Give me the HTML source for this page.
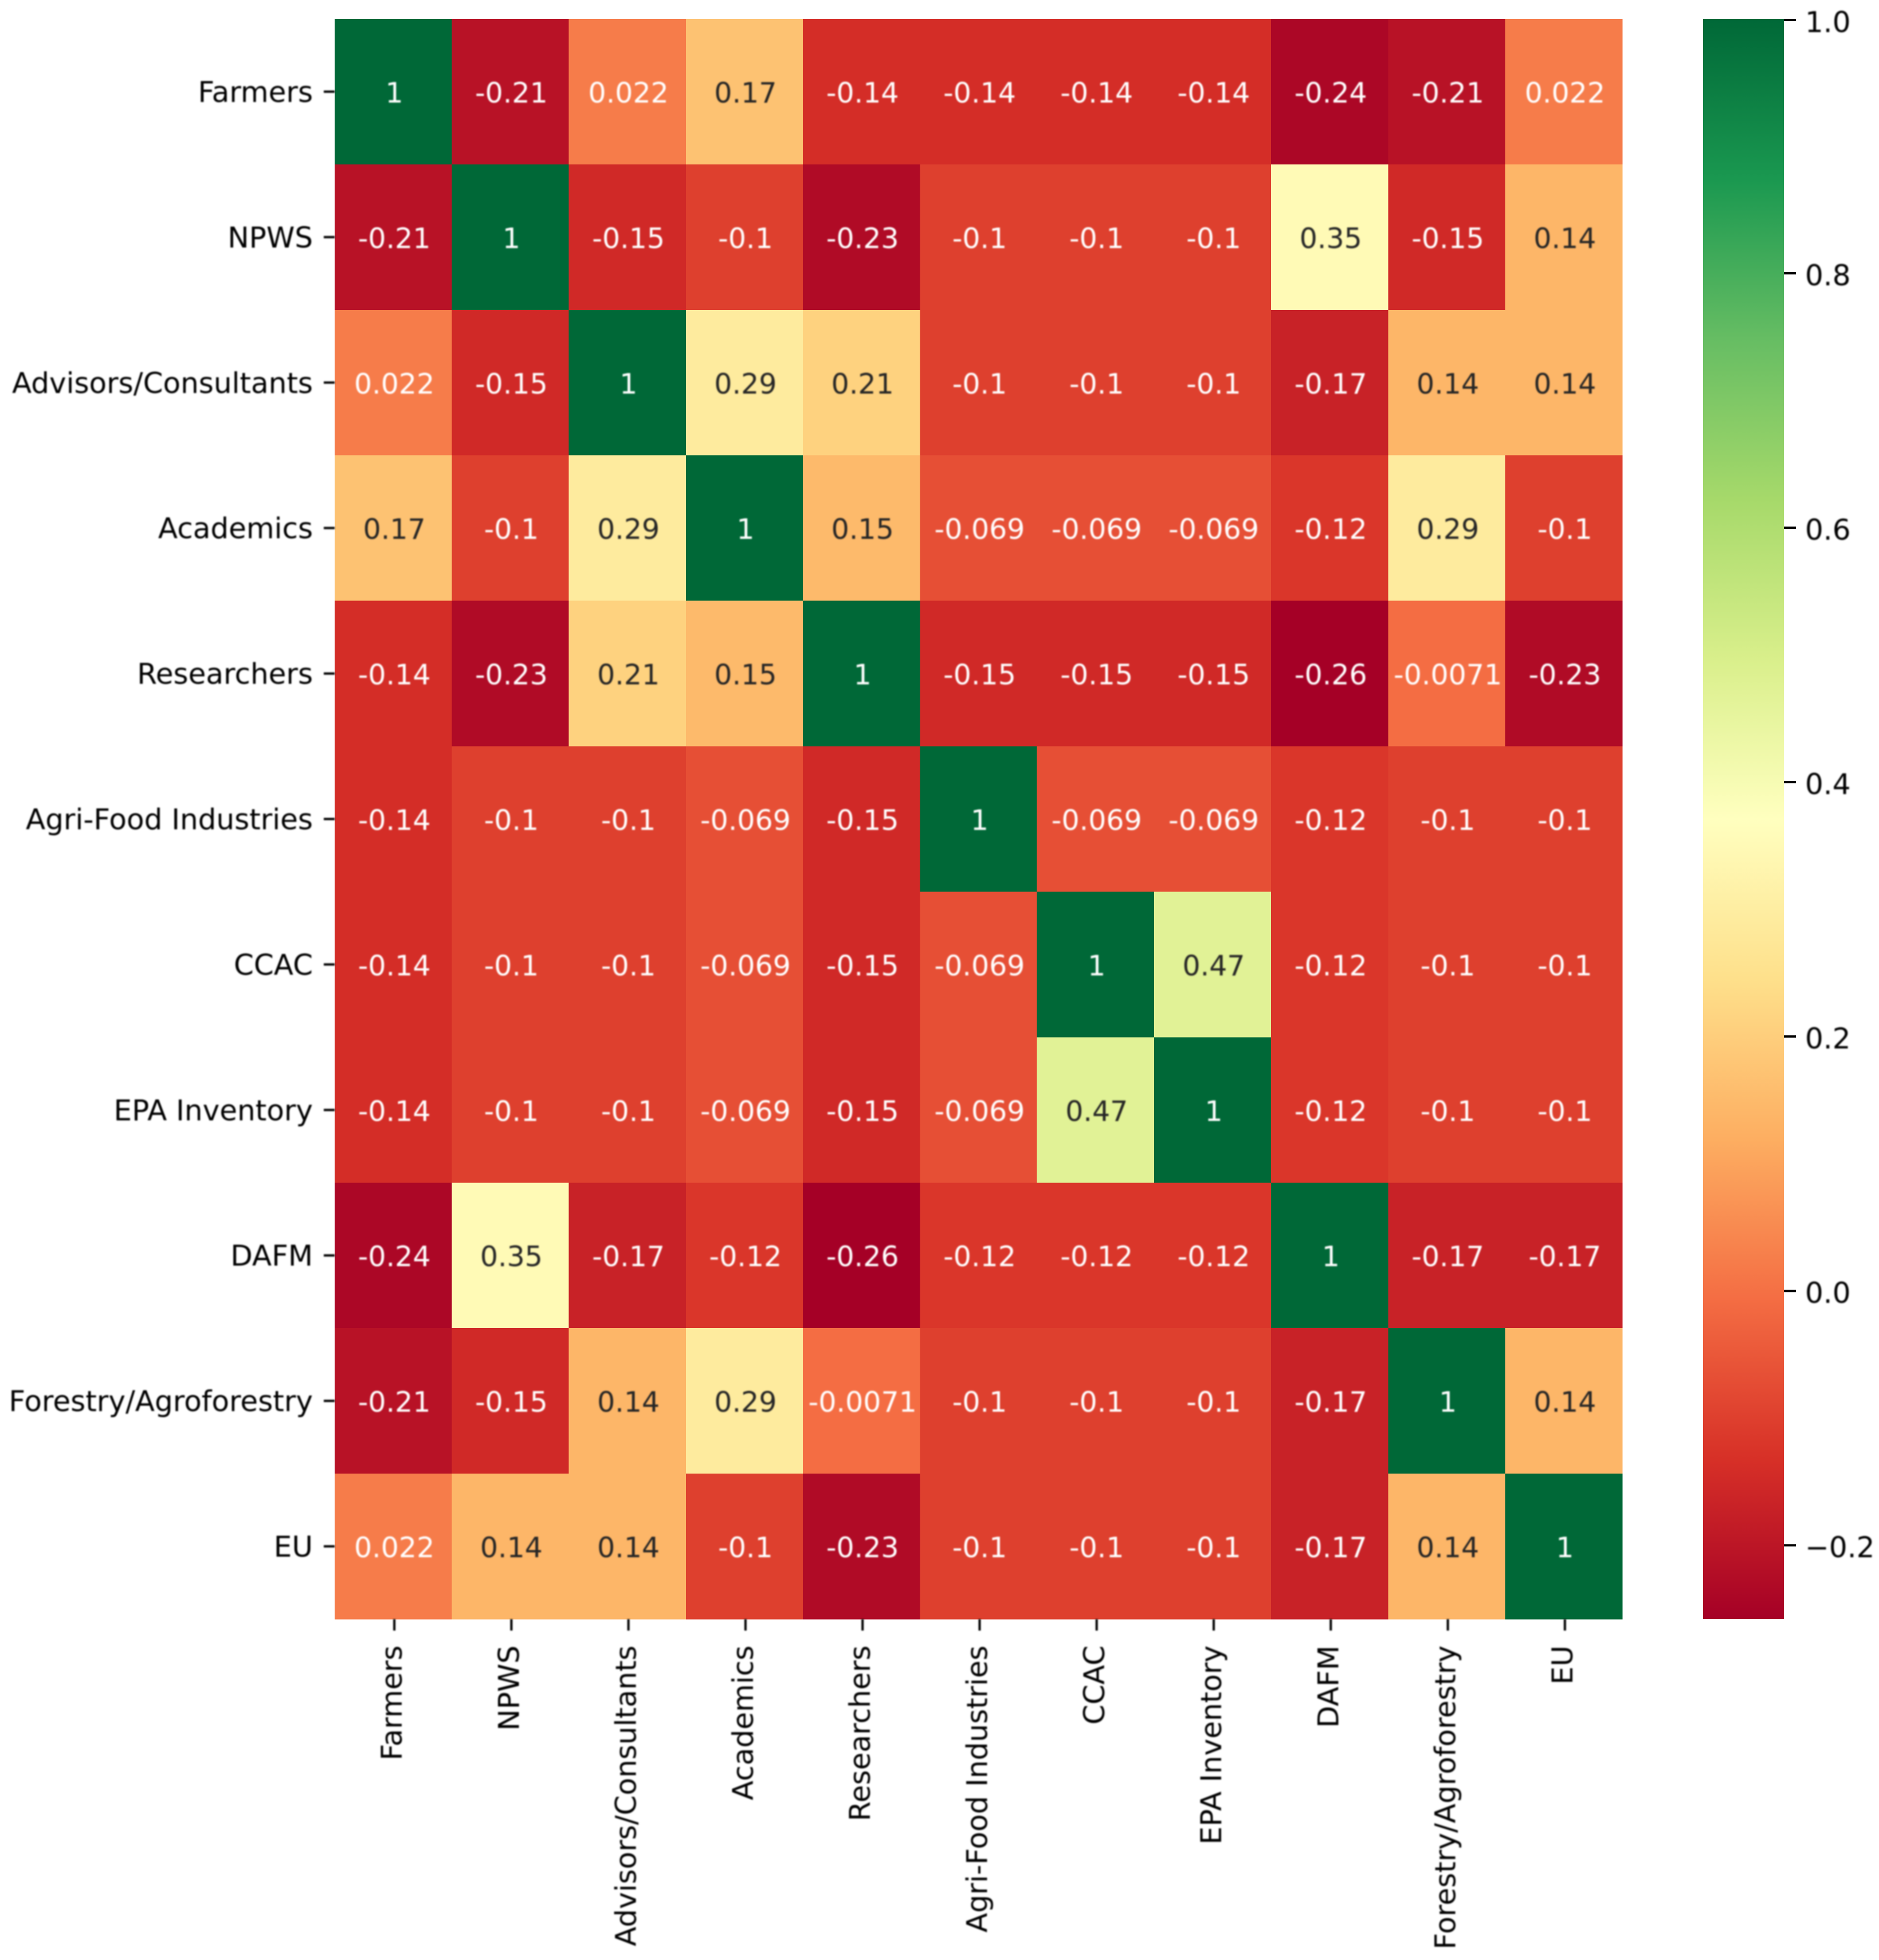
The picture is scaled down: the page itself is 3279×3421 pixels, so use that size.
<!DOCTYPE html>
<html lang="en">
<head>
<meta charset="utf-8">
<title>Correlation heatmap</title>
<style>
  html, body { margin: 0; padding: 0; background: #fff; }
  svg { display: block; }
  text { font-family: "DejaVu Sans", "Liberation Sans", sans-serif; font-size: 49px; }
  .axis-text { font-size: 50px; }
  .soft { filter: blur(1.2px); }
</style>
</head>
<body>
<svg id="chart" xmlns="http://www.w3.org/2000/svg" width="3279" height="3421" viewBox="0 0 3279 3421">
  <rect x="0" y="0" width="3279" height="3421" fill="#ffffff"/>
  <defs><linearGradient id="cbar-gradient" x1="0" y1="1" x2="0" y2="0"></linearGradient></defs>
  <g id="cells" shape-rendering="crispEdges"></g>
  <g id="annots" class="soft"></g>
  <g id="ylabels" class="soft"></g>
  <g id="xlabels" class="soft"></g>
  <g id="colorbar"></g>
</svg>
<script>
const categories = ["Farmers","NPWS","Advisors/Consultants","Academics","Researchers","Agri-Food Industries","CCAC","EPA Inventory","DAFM","Forestry/Agroforestry","EU"];
const rowFarmers = [1,-0.21,0.022,0.17,-0.14,-0.14,-0.14,-0.14,-0.24,-0.21,0.022];
const rowNPWS = [-0.21,1,-0.15,-0.1,-0.23,-0.1,-0.1,-0.1,0.35,-0.15,0.14];
const rowAdvisors = [0.022,-0.15,1,0.29,0.21,-0.1,-0.1,-0.1,-0.17,0.14,0.14];
const rowAcademics = [0.17,-0.1,0.29,1,0.15,-0.069,-0.069,-0.069,-0.12,0.29,-0.1];
const rowResearchers = [-0.14,-0.23,0.21,0.15,1,-0.15,-0.15,-0.15,-0.26,-0.0071,-0.23];
const rowAgriFood = [-0.14,-0.1,-0.1,-0.069,-0.15,1,-0.069,-0.069,-0.12,-0.1,-0.1];
const rowCCAC = [-0.14,-0.1,-0.1,-0.069,-0.15,-0.069,1,0.47,-0.12,-0.1,-0.1];
const rowEPA = [-0.14,-0.1,-0.1,-0.069,-0.15,-0.069,0.47,1,-0.12,-0.1,-0.1];
const rowDAFM = [-0.24,0.35,-0.17,-0.12,-0.26,-0.12,-0.12,-0.12,1,-0.17,-0.17];
const rowForestry = [-0.21,-0.15,0.14,0.29,-0.0071,-0.1,-0.1,-0.1,-0.17,1,0.14];
const rowEU = [0.022,0.14,0.14,-0.1,-0.23,-0.1,-0.1,-0.1,-0.17,0.14,1];
const matrixRows = [rowFarmers,rowNPWS,rowAdvisors,rowAcademics,rowResearchers,rowAgriFood,rowCCAC,rowEPA,rowDAFM,rowForestry,rowEU];
const colorbarTicks = [1.0,0.8,0.6,0.4,0.2,0.0,-0.2];
const colorMin = -0.258;
const colorMax = 1;

const NS = "http://www.w3.org/2000/svg";
const plot = { left: 584, right: 2831, top: 33, bottom: 2826 };
const bar = { left: 2972, right: 3113, top: 33, bottom: 2826 };
const palette = [[165,0,38],[215,48,39],[244,109,67],[253,174,97],[254,224,139],[255,255,191],[217,239,139],[166,217,106],[102,189,99],[26,152,80],[0,104,55]];

function cellW() { return (plot.right - plot.left) / categories.length; }
function cellH() { return (plot.bottom - plot.top) / categories.length; }
function xEdge(i) { return plot.left + i * cellW(); }
function yEdge(i) { return plot.top + i * cellH(); }
function xCenter(i) { return xEdge(i) + cellW() / 2; }
function yCenter(i) { return yEdge(i) + cellH() / 2; }
function barY(v) { return bar.top + (colorMax - v) / (colorMax - colorMin) * (bar.bottom - bar.top); }

function cmap(v) {
  const t = Math.max(0, Math.min(1, (v - colorMin) / (colorMax - colorMin))) * (palette.length - 1);
  const k = Math.min(palette.length - 2, Math.floor(t));
  const f = t - k;
  return palette[k].map((c, n) => c + (palette[k + 1][n] - c) * f);
}
function rgb(c) { return "rgb(" + c.map(Math.round).join(",") + ")"; }
function luminance(c) {
  const s = c.map(x => { x /= 255; return x <= 0.03928 ? x / 12.92 : Math.pow((x + 0.055) / 1.055, 2.4); });
  return 0.2126 * s[0] + 0.7152 * s[1] + 0.0722 * s[2];
}
function make(tag, attrs, parent, txt) {
  const el = document.createElementNS(NS, tag);
  for (const k in attrs) el.setAttribute(k, attrs[k]);
  if (txt !== undefined) el.textContent = txt;
  parent.appendChild(el);
  return el;
}

const cellsG = document.getElementById("cells");
const annotsG = document.getElementById("annots");
const yG = document.getElementById("ylabels");
const xG = document.getElementById("xlabels");
const cbG = document.getElementById("colorbar");
const TICK_COLOR = "#000";

matrixRows.forEach((row, r) => {
  row.forEach((v, c) => {
    const col = cmap(v);
    const rect = make("rect", { x: xEdge(c), y: yEdge(r), width: cellW() + 0.5, height: cellH() + 0.5, fill: rgb(col) }, cellsG);
    
    
    const label = make("text", { x: xCenter(c) + 2, y: yCenter(r) + 19, "text-anchor": "middle", fill: luminance(col) < 0.408 ? "#ffffff" : "#262626" }, annotsG, String(v));
    
    
  });
});

categories.forEach((name, i) => {
  const yt = make("line", { x1: 565, x2: plot.left, y1: yCenter(i), y2: yCenter(i), stroke: TICK_COLOR, "stroke-width": 4 }, yG);
  
  
  const yl = make("text", { x: 546, y: yCenter(i) + 18, "text-anchor": "end", fill: "#000", class: "axis-text" }, yG, name);
  
  
  const xc = xCenter(i) + 2;
  const xt = make("line", { x1: xc, x2: xc, y1: plot.bottom, y2: plot.bottom + 20, stroke: TICK_COLOR, "stroke-width": 4 }, xG);
  
  
  const xl = make("text", { transform: "translate(" + (xc + 13) + "," + (plot.bottom + 46) + ") rotate(-90)", "text-anchor": "end", fill: "#000", class: "axis-text" }, xG, name);
  
  
});

const grad = document.getElementById("cbar-gradient");
palette.forEach((c, i) => {
  make("stop", { offset: i / (palette.length - 1), "stop-color": rgb(c) }, grad);
});
const barRect = make("rect", { x: bar.left, y: bar.top, width: bar.right - bar.left, height: bar.bottom - bar.top, fill: "url(#cbar-gradient)" }, cbG);


colorbarTicks.forEach(v => {
  const y = barY(v) + (v === 1 ? 2 : 0);
  const t = make("line", { x1: bar.right, x2: bar.right + 21, y1: y, y2: y, stroke: TICK_COLOR, "stroke-width": 4 }, cbG);
  
  
  const lab = make("text", { x: 3150, y: y + 21, fill: "#000", class: "soft axis-text" }, cbG, v.toFixed(1).replace("-", "\u2212"));
  
  
});
</script>
</body>
</html>
